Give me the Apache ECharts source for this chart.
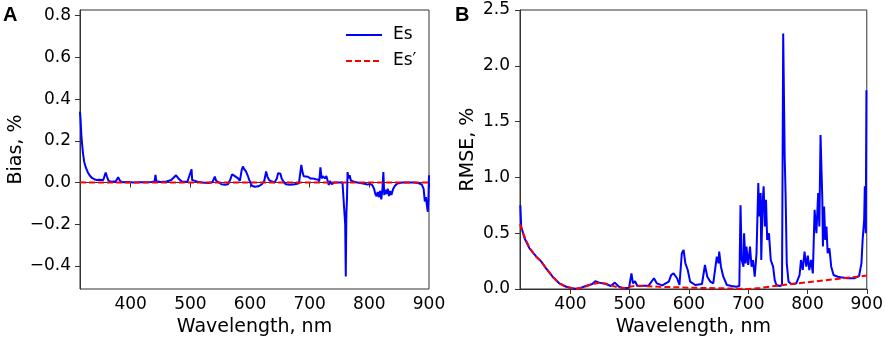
<!DOCTYPE html>
<html><head><meta charset="utf-8">
<script src="https://cdn.jsdelivr.net/npm/echarts@6/dist/echarts.min.js"></script>
<style>html,body{margin:0;padding:0;background:#fff}#c{width:886px;height:344px}</style>
</head><body><div id="c"></div>
<script>
// ---- Panel A: Bias, % ----
const biasEsWl = [315,316,317,318,320,322,325,328,331,335,339,343,347,350,354,358,360,363,368,375,379,382,386,395,405,415,425,435,440,441.5,443,450,460,468,476,480,486,495,502,503,505,508,512,520,530,537,541,543,546,552,558,563,567,570,572,574,577,580,583,586,588,590,593,596,599,603,608,614,620,624,627,629,632,637,641,645,647,649,651,653,656,660,667,675,682,685,686,688,690,693,697,701,705,710,714,716,718,720,722,724,726,728,730,732,734,737,741,748,755,758,759.5,760.5,761.5,762.5,763.5,765,767,769,773,780,787,792,797,801,805,808,810,812,814,816,818,820,822,823.5,825,827,829,831,833,835,837,840,843,847,855,865,875,882,888,891,893,895,896.5,898,899,900];
const biasEs = [0.34,0.30,0.24,0.20,0.14,0.10,0.07,0.05,0.035,0.022,0.016,0.012,0.014,0.008,0.012,0.048,0.03,0.008,0.004,0.006,0.026,0.008,0.002,0.003,0.0,0.002,0.001,0.003,0.005,0.037,0.006,0.003,0.005,0.012,0.035,0.02,0.004,0.004,0.064,0.012,0.02,0.008,0.004,0.0,-0.002,0.002,0.029,0.01,0.005,-0.008,-0.01,-0.008,0.015,0.04,0.045,0.032,0.038,0.02,0.008,0.06,0.077,0.065,0.055,0.035,0.01,-0.015,-0.02,-0.018,-0.008,0.01,0.053,0.03,0.012,0.005,0.0,0.02,0.045,0.04,0.042,0.02,0.005,-0.008,-0.01,-0.008,-0.003,0.005,0.085,0.05,0.03,0.025,0.028,0.02,0.02,0.016,0.015,0.005,0.073,0.02,0.03,0.038,0.02,0.032,0.01,-0.012,0.008,-0.008,0.0,0.0,0.0,0.002,-0.2,-0.45,-0.15,-0.08,0.05,0.02,0.035,0.01,0.005,0.0,-0.003,-0.006,-0.01,-0.006,-0.012,-0.03,-0.055,-0.065,-0.045,-0.07,-0.04,-0.08,-0.03,0.05,-0.06,-0.035,-0.055,-0.03,-0.065,-0.04,-0.06,-0.03,-0.015,-0.005,0.0,0.0,0.0,-0.002,-0.01,-0.03,-0.09,-0.07,-0.11,-0.14,-0.08,0.035];
const biasEsPWl = [315,350,400,450,500,550,600,650,700,750,800,850,900];
const biasEsP = [0.001,0.0,0.0,0.0,0.0,0.0,0.0,0.0,0.0,0.0,0.0,0.0,0.0];

// ---- Panel B: RMSE, % ----
const rmseEsWl = [315.6,317,323,331,342.5,351,359,370,381.5,393,407,415,426,437,442,448.6,460,468,475,482,490.5,499,503,505.6,509,513,521,532,541,546,555,566,570,574,580,584,588,591,594,598,602,610.6,622,627,631,636,641,647,650,651,654,658,664,672,680,685,687,689,692,693,695.6,697,700,703,705.6,708,711,714,717,718.5,721,722,724,726,728,730,732,735,738,742,744.7,747.5,753,757,759,761.5,763,765,768,772.6,781,786.6,789,792,795,798,800.6,803,806,809,812,815,818,820,822,825,826,828,830,832,834,837,840,844,851,856,867.6,878.8,887,891,893,895.6,896.7,898.3,899.4];
const rmseEs = [0.75,0.56,0.45,0.365,0.29,0.245,0.185,0.11,0.05,0.02,0.003,0.006,0.027,0.045,0.07,0.057,0.045,0.027,0.057,0.02,0.006,0.012,0.14,0.05,0.07,0.027,0.03,0.03,0.096,0.05,0.033,0.066,0.125,0.14,0.096,0.036,0.32,0.35,0.23,0.17,0.066,0.036,0.045,0.215,0.11,0.066,0.05,0.29,0.23,0.335,0.2,0.11,0.036,0.027,0.02,0.027,0.75,0.26,0.2,0.5,0.23,0.38,0.215,0.38,0.2,0.26,0.11,0.32,0.95,0.65,0.86,0.26,0.74,0.92,0.56,0.8,0.44,0.5,0.26,0.2,0.08,0.036,0.027,0.036,2.29,1.19,0.86,0.23,0.066,0.045,0.05,0.125,0.26,0.17,0.335,0.2,0.3,0.17,0.26,0.14,0.71,0.5,0.86,0.56,1.38,0.8,0.38,0.74,0.44,0.56,0.32,0.365,0.2,0.125,0.11,0.105,0.096,0.096,0.116,0.23,0.44,0.62,0.92,0.5,1.78];
const rmseEsPWl = [315,320,330,340,350,360,370,380,390,400,410,420,430,440,450,460,470,480,490,500,510,530,550,600,650,700,720,750,800,850,900];
const rmseEsP = [0.58,0.5,0.38,0.3,0.25,0.18,0.11,0.055,0.025,0.01,0.0,0.012,0.03,0.048,0.058,0.047,0.03,0.015,0.008,0.02,0.03,0.025,0.02,0.012,0.007,0.0,0.01,0.03,0.06,0.09,0.12];

const xTicks = [400,500,600,700,800,900];
const biasTicks = [-0.4,-0.2,0.0,0.2,0.4,0.6,0.8];
const rmseTicks = [0.0,0.5,1.0,1.5,2.0,2.5];
const names = ['Es','Es\u2032'];

const zip = (a,b) => a.map((x,i)=>[x,b[i]]);
const FONT = 'DejaVu Sans';
const fmtY = v => (v < -1e-9 ? '\u2212' : '') + Math.abs(v).toFixed(1);

function xAxis(gi){
  return {type:'value', gridIndex:gi, min:315, max:900,
    name:'Wavelength, nm', nameLocation:'middle', nameGap:29,
    nameTextStyle:{fontFamily:FONT,fontSize:19,color:'#000'},
    axisLine:{show:true,lineStyle:{color:'#333',width:1}},
    axisTick:{show:true,length:5,lineStyle:{color:'#333'},customValues:xTicks},
    axisLabel:{fontFamily:FONT,fontSize:17,color:'#000',margin:7,customValues:xTicks,formatter:v=>String(Math.round(v))},
    splitLine:{show:false}};
}
function yAxis(gi,min,max,ticks,name,gap,margin){
  return {type:'value', gridIndex:gi, min:min, max:max,
    name:name, nameLocation:'middle', nameGap:gap, nameRotate:90,
    nameTextStyle:{fontFamily:FONT,fontSize:19,color:'#000'},
    axisLine:{show:true,lineStyle:{color:'#333',width:1}},
    axisTick:{show:true,length:5,lineStyle:{color:'#333'},customValues:ticks},
    axisLabel:{fontFamily:FONT,fontSize:17,color:'#000',margin:margin,customValues:ticks,formatter:fmtY},
    splitLine:{show:false}};
}

const chart = echarts.init(document.getElementById('c'), null, {renderer:'canvas'});
chart.setOption({
  animation:false,
  backgroundColor:'#fff',
  grid:[
    {left:80, top:10, width:349, height:279, show:true, borderColor:'#333', borderWidth:1, backgroundColor:'transparent'},
    {left:520, top:10, width:349, height:279, show:true, borderColor:'#333', borderWidth:1, backgroundColor:'transparent'}
  ],
  xAxis:[xAxis(0), xAxis(1)],
  yAxis:[
    yAxis(0,-0.51,0.827,biasTicks,'Bias, %',54,9),
    yAxis(1,0,2.5,rmseTicks,'RMSE, %',42,10)
  ],
  legend:{
    orient:'vertical', left:340, top:20, itemWidth:36, itemHeight:14, itemGap:6,
    data:names,
    itemStyle:{opacity:0},
    textStyle:{fontFamily:FONT,fontSize:17,color:'#000',lineHeight:20,padding:[0,0,0,6]}
  },
  graphic:[
    {type:'text', left:3, top:5, style:{text:'A', font:'bold 20px "Liberation Sans", Arial, sans-serif', fill:'#000'}},
    {type:'text', left:455, top:5, style:{text:'B', font:'bold 20px "Liberation Sans", Arial, sans-serif', fill:'#000'}}
  ],
  series:[
    {name:names[0], type:'line', xAxisIndex:0, yAxisIndex:0, data:zip(biasEsWl,biasEs), symbol:'none', lineStyle:{color:'#0000ff',width:2}, itemStyle:{color:'#0000ff'}, z:2},
    {name:names[1], type:'line', xAxisIndex:0, yAxisIndex:0, data:zip(biasEsPWl,biasEsP), symbol:'none', lineStyle:{color:'#ff0000',width:2,type:[6,3]}, itemStyle:{color:'#ff0000'}, z:3},
    {name:names[0], type:'line', xAxisIndex:1, yAxisIndex:1, data:zip(rmseEsWl,rmseEs), symbol:'none', lineStyle:{color:'#0000ff',width:2}, itemStyle:{color:'#0000ff'}, z:2},
    {name:names[1], type:'line', xAxisIndex:1, yAxisIndex:1, data:zip(rmseEsPWl,rmseEsP), symbol:'none', lineStyle:{color:'#ff0000',width:2,type:[6,3]}, itemStyle:{color:'#ff0000'}, z:3}
  ]
});
</script></body></html>
